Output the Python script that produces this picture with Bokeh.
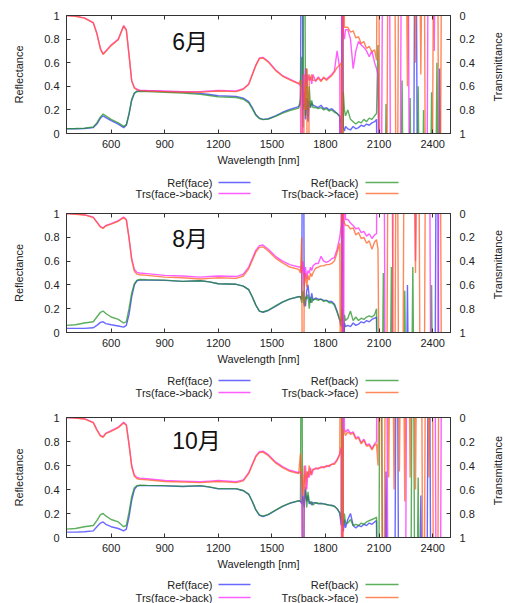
import math
from bokeh.plotting import figure
from bokeh.models import Range1d, LinearAxis, FixedTicker, NumeralTickFormatter, Label
from bokeh.layouts import column, row
from bokeh.embed import file_html
from bokeh.resources import INLINE
from bokeh.core.properties import value

# ---------------- data ----------------
wavelength = [
    350, 400, 450, 500, 520, 540, 555, 570, 600, 640, 670, 685, 700, 715, 730, 745, 760, 800,
    900, 1000, 1100, 1150, 1200, 1300, 1340, 1370, 1390, 1410, 1430, 1450, 1480, 1520, 1560, 1600, 1650,
    1660, 1667, 1674, 1681, 1688, 1695, 1702, 1709, 1716, 1723, 1730,
    1745, 1760, 1775, 1790, 1805, 1820, 1835, 1850, 1865, 1880,
    1888, 1894, 1900, 1906, 1912,
    1925, 1940, 1955, 1970, 1985, 2000, 2015, 2030, 2045, 2060, 2075, 2086,
    2094, 2109, 2124, 2139, 2154, 2169, 2184, 2199, 2214, 2229, 2244, 2259, 2274,
    2289, 2304, 2319, 2334, 2349, 2364, 2379, 2394, 2409, 2424, 2439, 2454, 2469,
]

months = ["6月", "8月", "10月"]
series_names = ["Ref(face)", "Ref(back)", "Trs(face->back)", "Trs(back->face)"]
x_ticks = [600, 900, 1200, 1500, 1800, 2100, 2400]
y_ticks = [0, 0.2, 0.4, 0.6, 0.8, 1]

# ---- June ----
ref_face_jun = [
    0.04, 0.04, 0.042, 0.05, 0.08, 0.13, 0.15, 0.135, 0.11, 0.08, 0.05, 0.07, 0.16, 0.28, 0.34, 0.36, 0.362, 0.36,
    0.355, 0.35, 0.34, 0.33, 0.32, 0.315, 0.3, 0.27, 0.22, 0.16, 0.13, 0.12, 0.125, 0.15, 0.18, 0.205, 0.228,
    0.25, 3, 0.2, 0.35, 0.12, 0.3, 0.1, 0.28, 0.22, 0.26, 0.24,
    0.23, 0.22, 0.24, 0.21, 0.22, 0.2, 0.21, 0.19, 0.17, 0.15,
    -2, 3, 0.05, 0.02, 0.06,
    0.04, 0.03, 0.06, 0.04, 0.05, 0.07, 0.06, 0.08, 0.07, 0.09, 0.1, 0.12,
    -2, -2, -2, -2, -2, -2, -2, -2, -2, -2, -2, -2, -2, -2, 3, -2, -2, -2, -2, -2, -2, -2, -2, 0.55, -2, -2,
]
ref_back_jun = [
    0.04, 0.042, 0.045, 0.055, 0.09, 0.14, 0.165, 0.15, 0.12, 0.09, 0.06, 0.075, 0.17, 0.29, 0.345, 0.355, 0.357, 0.355,
    0.35, 0.342, 0.332, 0.322, 0.31, 0.305, 0.29, 0.26, 0.21, 0.155, 0.127, 0.118, 0.122, 0.145, 0.172, 0.195, 0.215,
    0.3, 0.65, 0.05, 3, 0.15, 0.55, 0.2, 0.4, 0.22, 0.28, 0.22,
    0.22, 0.21, 0.22, 0.2, 0.21, 0.19, 0.2, 0.18, 0.17, 0.14,
    0.08, -2, 0.35, 0.2, 0.15,
    0.2, 0.12, 0.1, 0.08, 0.1, 0.09, 0.12, 0.1, 0.13, 0.12, 0.15, 0.17,
    0.75, -2, -2, 0.25, -2, -2, -2, -2, -2, 0.45, -2, -2, 0.3, -2, -2, 0.4, -2, 0.2, -2, -2, 0.35, -2, 0.6, -2, -2, -2,
]
trs_fb_jun = [
    0.0, 0.005, 0.02, 0.06, 0.15, 0.28, 0.325, 0.3, 0.25, 0.2, 0.085, 0.12, 0.33, 0.55, 0.61, 0.625, 0.632, 0.635,
    0.64, 0.645, 0.645, 0.64, 0.635, 0.64, 0.62, 0.58, 0.5, 0.42, 0.36, 0.355, 0.39, 0.46, 0.51, 0.54, 0.575,
    0.6, 3, 0.5, 0.75, 0.45, 0.6, 0.5, 0.55, 0.52, 0.58, 0.5,
    0.56, 0.52, 0.55, 0.53, 0.54, 0.52, 0.5, 0.47, 0.3, 0.45,
    3, -2, 0.15, 0.2, 0.12,
    0.12, 0.2, 0.45, 0.3, 0.22, 0.25, 0.27, 0.3, 0.35, 0.3, 0.4, 0.45,
    0.5, 3, -2, -2, -2, 3, 3, 3, 3, -2, -2, -2, 3, 3, 3, 3, 3, 3, 3, -2, -2, 0.3, -2, -2, -2, -2,
]
trs_bf_jun = [
    0.0, 0.006, 0.022, 0.063, 0.155, 0.285, 0.33, 0.305, 0.255, 0.205, 0.09, 0.125, 0.335, 0.555, 0.615, 0.63, 0.637, 0.64,
    0.645, 0.65, 0.65, 0.645, 0.64, 0.645, 0.625, 0.585, 0.505, 0.425, 0.365, 0.36, 0.395, 0.465, 0.515, 0.545, 0.58,
    0.55, 0.7, 3, 0.5, 0.8, 0.45, 3, 0.5, 0.55, 0.5, 0.55,
    0.55, 0.53, 0.56, 0.52, 0.55, 0.53, 0.51, 0.48, 0.44, 0.42,
    0.4, 3, -2, 0.1, 0.1,
    0.1, 0.14, 0.13, 0.19, 0.18, 0.24, 0.22, 0.28, 0.26, 0.31, 0.29, 0.38,
    -2, 3, 3, 3, -2, -2, -2, 3, -2, -2, -2, 0.6, -2, -2, 0.4, -2, 0.5, -2, 3, 3, 3, -2, -2, 3, -2, -2,
]

# ---- August ----
ref_face_aug = [
    0.035, 0.035, 0.035, 0.04, 0.06, 0.085, 0.09, 0.075, 0.065, 0.055, 0.045, 0.06, 0.15, 0.3, 0.4, 0.435, 0.44, 0.44,
    0.438, 0.43, 0.435, 0.425, 0.41, 0.405, 0.39, 0.36, 0.3, 0.23, 0.18, 0.17, 0.185, 0.22, 0.255, 0.28, 0.3,
    0.3, 0.28, 3, 0.25, 0.22, 0.35, 0.4, 0.3, 0.25, 0.33, 0.27,
    0.29, 0.28, 0.28, 0.27, 0.27, 0.26, 0.26, 0.24, 0.18, 0.1,
    0.05, 3, -2, 0.08, 0.05,
    0.06, 0.05, 0.08, 0.06, 0.07, 0.09, 0.08, 0.1, 0.09, 0.11, 0.12, 0.13,
    -2, -2, -2, -2, -2, -2, -2, -2, -2, -2, -2, 0.4, -2, -2, -2, -2, -2, -2, -2, -2, -2, -2, 3, -2, -2, -2,
]
ref_back_aug = [
    0.06, 0.065, 0.08, 0.09, 0.13, 0.17, 0.18, 0.16, 0.13, 0.11, 0.08, 0.09, 0.2, 0.33, 0.41, 0.44, 0.445, 0.443,
    0.44, 0.43, 0.435, 0.425, 0.41, 0.405, 0.39, 0.36, 0.3, 0.23, 0.18, 0.172, 0.188, 0.223, 0.257, 0.282, 0.302,
    0.3, 0.25, 0.35, 0.22, 0.3, 0.28, 0.32, 0.2, 0.3, 0.25, 0.28,
    0.28, 0.27, 0.28, 0.26, 0.27, 0.25, 0.25, 0.23, 0.17, 0.11,
    0.1, 0.2, -2, 0.15, 0.1,
    0.12, 0.18, 0.1, 0.13, 0.1, 0.12, 0.11, 0.13, 0.14, 0.13, 0.15, 0.2,
    -2, -2, 0.5, -2, -2, 0.55, -2, -2, -2, -2, 0.35, -2, -2, 0.55, -2, -2, -2, -2, -2, -2, 0.4, -2, -2, -2, -2, -2,
]
trs_fb_aug = [
    0.0, 0.005, 0.01, 0.03, 0.07, 0.11, 0.12, 0.1, 0.085, 0.06, 0.03, 0.05, 0.2, 0.38, 0.47, 0.495, 0.5, 0.505,
    0.52, 0.525, 0.535, 0.53, 0.525, 0.53, 0.51, 0.45, 0.38, 0.31, 0.27, 0.265, 0.3, 0.36, 0.4, 0.43, 0.45,
    0.45, 0.5, 0.4, 0.6, 0.45, 0.55, 0.48, 0.5, 0.45, 0.48, 0.44,
    0.42, 0.42, 0.36, 0.4, 0.41, 0.4, 0.38, 0.37, 0.3, 0.2,
    0.1, -2, 3, -2, 0.05,
    0.05, 0.08, 0.1, 0.13, 0.12, 0.16, 0.15, 0.19, 0.17, 0.21, 0.18, 0.17,
    -2, -2, -2, 3, 3, 3, -2, -2, -2, -2, -2, -2, -2, -2, 0.4, -2, -2, -2, -2, -2, 3, 3, 3, -2, -2, -2,
]
trs_bf_aug = [
    0.0, 0.006, 0.012, 0.035, 0.075, 0.115, 0.125, 0.105, 0.09, 0.065, 0.035, 0.055, 0.21, 0.39, 0.485, 0.51, 0.515, 0.52,
    0.535, 0.54, 0.55, 0.545, 0.54, 0.545, 0.525, 0.465, 0.395, 0.325, 0.285, 0.28, 0.315, 0.375, 0.415, 0.45, 0.47,
    0.5, 0.2, 3, 0.6, 0.5, 0.62, 0.52, 0.56, 0.5, 0.53, 0.5,
    0.46, 0.45, 0.44, 0.44, 0.43, 0.43, 0.42, 0.4, 0.33, 0.25,
    3, -2, 0.05, 0.08, 0.1,
    0.1, 0.13, 0.12, 0.18, 0.16, 0.21, 0.2, 0.25, 0.23, 0.3, 0.24, 0.22,
    0.3, 3, 3, 3, -2, -2, 3, -2, 3, 3, -2, -2, -2, -2, 0.5, -2, 3, 3, -2, -2, -2, -2, -2, -2, 3, 3,
]

# ---- October ----
ref_face_oct = [
    0.045, 0.045, 0.048, 0.055, 0.09, 0.12, 0.13, 0.11, 0.09, 0.075, 0.055, 0.07, 0.17, 0.31, 0.4, 0.428, 0.432, 0.432,
    0.43, 0.425, 0.43, 0.42, 0.405, 0.405, 0.39, 0.36, 0.3, 0.23, 0.185, 0.175, 0.19, 0.225, 0.26, 0.285, 0.305,
    0.3, 0.28, 0.35, 0.25, 0.4, 0.3, 0.35, 0.28, 0.3, 0.27, 0.29,
    0.29, 0.28, 0.285, 0.28, 0.275, 0.27, 0.27, 0.26, 0.24, 0.2,
    0.1, 0.2, 0.05, 0.15, 0.08,
    0.15, 0.2, 0.1, 0.08, 0.1, 0.09, 0.11, 0.1, 0.12, 0.11, 0.13, 0.14,
    -2, -2, -2, 0.55, -2, -2, -2, 3, -2, -2, -2, -2, -2, -2, -2, -2, 0.35, -2, -2, 3, -2, -2, -2, -2, -2, -2,
]
ref_back_oct = [
    0.07, 0.075, 0.09, 0.1, 0.14, 0.19, 0.2, 0.18, 0.15, 0.13, 0.09, 0.1, 0.21, 0.34, 0.415, 0.432, 0.435, 0.434,
    0.432, 0.426, 0.432, 0.422, 0.407, 0.407, 0.392, 0.362, 0.302, 0.232, 0.188, 0.178, 0.193, 0.228, 0.262, 0.287, 0.307,
    0.3, 3, -2, 0.3, 0.42, 0.25, 0.38, 0.3, 0.28, 0.3, 0.27,
    0.29, 0.285, 0.28, 0.28, 0.275, 0.27, 0.265, 0.26, 0.24, 0.21,
    0.15, 3, 0.1, 0.2, 0.12,
    0.12, 0.15, 0.1, 0.11, 0.1, 0.12, 0.11, 0.13, 0.14, 0.15, 0.16, 0.17,
    -2, 3, -2, -2, -2, -2, -2, -2, -2, -2, -2, -2, -2, 3, -2, 0.5, -2, -2, -2, -2, -2, -2, -2, -2, -2, -2,
]
trs_fb_oct = [
    0.0, 0.004, 0.01, 0.04, 0.1, 0.15, 0.16, 0.13, 0.11, 0.08, 0.04, 0.06, 0.22, 0.4, 0.48, 0.5, 0.505, 0.51,
    0.525, 0.53, 0.535, 0.53, 0.525, 0.535, 0.52, 0.46, 0.39, 0.32, 0.285, 0.28, 0.31, 0.37, 0.41, 0.44, 0.46,
    0.45, 0.5, 3, 0.55, 0.4, 0.6, 0.45, 0.5, 0.42, 0.48, 0.44,
    0.42, 0.43, 0.41, 0.42, 0.4, 0.41, 0.39, 0.38, 0.35, 0.3,
    0.25, 3, -2, 0.1, 0.12,
    0.1, 0.13, 0.12, 0.17, 0.16, 0.21, 0.18, 0.23, 0.22, 0.26, 0.22, 0.2,
    -2, -2, -2, -2, 3, 3, 3, 3, 3, 3, 3, -2, -2, -2, -2, -2, -2, -2, -2, -2, -2, -2, 3, 3, -2, -2,
]
trs_bf_oct = [
    0.0, 0.005, 0.012, 0.045, 0.105, 0.155, 0.165, 0.135, 0.115, 0.085, 0.045, 0.065, 0.225, 0.41, 0.49, 0.51, 0.515, 0.52,
    0.533, 0.538, 0.543, 0.538, 0.533, 0.543, 0.528, 0.468, 0.398, 0.328, 0.293, 0.288, 0.318, 0.378, 0.418, 0.448, 0.468,
    0.3, 0.5, 0.65, 0.4, 0.6, 0.45, 0.5, 0.4, 0.48, 0.45, 0.43,
    0.43, 0.42, 0.42, 0.41, 0.41, 0.4, 0.39, 0.39, 0.36, 0.31,
    -2, 3, 0.1, 0.12, 0.15,
    0.12, 0.14, 0.13, 0.18, 0.17, 0.22, 0.19, 0.24, 0.23, 0.27, 0.23, 0.22,
    0.4, -2, 3, -2, 0.5, -2, 0.6, -2, 0.45, -2, 0.7, -2, 0.5, -2, 0.6, -2, -2, 3, -2, 0.5, -2, 3, 3, -2, -2, -2,
]

# ---------------- style ----------------
FONT = "Liberation Sans"
TXT = "#222222"
AX = "#333333"
COLORS = ["#2f2fff", "#1f8f1f", "#ff1fff", "#ff5a1a"]
ALPHA = 0.72
LW = 1.4
MAIN_W = 490
SIDE_W = 15


def style_axis(ax):
    ax.major_tick_in = 4
    ax.major_tick_out = 0
    ax.minor_tick_line_color = None
    ax.axis_line_color = AX
    ax.major_tick_line_color = AX
    ax.major_label_text_font = FONT
    ax.major_label_text_font_size = "11px"
    ax.major_label_text_color = TXT
    ax.axis_label_text_font = FONT
    ax.axis_label_text_font_size = "11px"
    ax.axis_label_text_font_style = "normal"
    ax.axis_label_text_color = TXT


def make_panel(month, rf, rb, tfb, tbf, top, frame_h, label_y):
    h = top + frame_h + 37
    p = figure(width=MAIN_W, height=h,
               x_range=Range1d(350, 2500), y_range=Range1d(0, 1),
               output_backend="svg", toolbar_location=None,
               min_border_left=66, min_border_right=MAIN_W - 450,
               min_border_top=top, min_border_bottom=37)
    p.extra_y_ranges = {"trs": Range1d(1, 0)}
    p.xgrid.visible = False
    p.ygrid.visible = False
    p.outline_line_color = AX
    p.outline_line_width = 1
    p.background_fill_color = "white"
    p.border_fill_color = "white"

    p.line(wavelength, rf, color=COLORS[0], line_width=LW, alpha=ALPHA)
    p.line(wavelength, rb, color=COLORS[1], line_width=LW, alpha=ALPHA)
    p.line(wavelength, tfb, color=COLORS[2], line_width=LW, alpha=ALPHA, y_range_name="trs")
    p.line(wavelength, tbf, color=COLORS[3], line_width=LW, alpha=ALPHA, y_range_name="trs")

    xa = p.xaxis[0]
    xa.ticker = FixedTicker(ticks=x_ticks)
    xa.axis_label = "Wavelength [nm]"
    style_axis(xa)
    xa.major_label_standoff = 6
    xa.axis_label_standoff = 3

    ya = p.yaxis[0]
    ya.ticker = FixedTicker(ticks=y_ticks)
    ya.formatter = NumeralTickFormatter(format="0.[0]")
    ya.axis_label = "Reflectance"
    style_axis(ya)
    ya.major_label_standoff = 7
    ya.axis_label_standoff = 16

    ra = LinearAxis(y_range_name="trs",
                    ticker=FixedTicker(ticks=y_ticks),
                    formatter=NumeralTickFormatter(format="0.[0]"))
    style_axis(ra)
    ra.major_label_standoff = 9
    p.add_layout(ra, "right")

    # mirrored ticks on the top edge (labels not drawn)
    ta = LinearAxis(ticker=FixedTicker(ticks=x_ticks))
    style_axis(ta)
    ta.major_label_text_font_size = "6px"
    ta.major_label_text_color = None
    ta.major_label_standoff = 0
    p.add_layout(ta, "above")

    p.add_layout(Label(x=942, y=label_y, text=month, text_font="Liberation Sans, Noto Sans CJK JP",
                       text_font_size="23px", text_color="#111111", text_baseline="middle",
                       text_align="left"))

    # strip at the right carrying the transmittance axis title (reads bottom-to-top)
    s = figure(width=SIDE_W, height=h, x_range=Range1d(0, SIDE_W), y_range=Range1d(h, 0),
               x_axis_type=None, y_axis_type=None, toolbar_location=None,
               output_backend="svg", min_border=0)
    s.outline_line_color = None
    s.text(x=[7], y=[top + frame_h / 2], text=["Transmittance"], angle=math.pi / 2,
           text_align="center", text_baseline="middle", text_font=value(FONT),
           text_font_size=value("11px"), text_color=TXT)
    return row(p, s, spacing=0)


def make_legend(h, r1, r2):
    lg = figure(width=505, height=h, x_range=Range1d(0, 505), y_range=Range1d(h, 0),
                x_axis_type=None, y_axis_type=None, toolbar_location=None,
                output_backend="svg", min_border=0)
    lg.outline_line_color = None
    lg.text(x=[212, 358, 212, 358], y=[r1, r1, r2, r2], text=series_names,
            text_align="right", text_baseline="middle", text_font=value(FONT),
            text_font_size=value("11px"), text_color=TXT)
    lg.segment(x0=[218, 365, 218, 365], y0=[r1, r1, r2, r2],
               x1=[250, 398, 250, 398], y1=[r1, r1, r2, r2],
               color=COLORS, line_width=LW, alpha=ALPHA)
    return lg


p1 = make_panel(months[0], ref_face_jun, ref_back_jun, trs_fb_jun, trs_bf_jun, 15, 118, 0.774)
l1 = make_legend(30, 12, 23)
p2 = make_panel(months[1], ref_face_aug, ref_back_aug, trs_fb_aug, trs_bf_aug, 13, 119, 0.787)
l2 = make_legend(31, 11, 23)
p3 = make_panel(months[2], ref_face_oct, ref_back_oct, trs_fb_oct, trs_bf_oct, 17, 120, 0.808)
l3 = make_legend(29, 10, 23)

layout = column(p1, l1, p2, l2, p3, l3, spacing=0)

with open("out.html", "w") as f:
    f.write(file_html(layout, INLINE))
